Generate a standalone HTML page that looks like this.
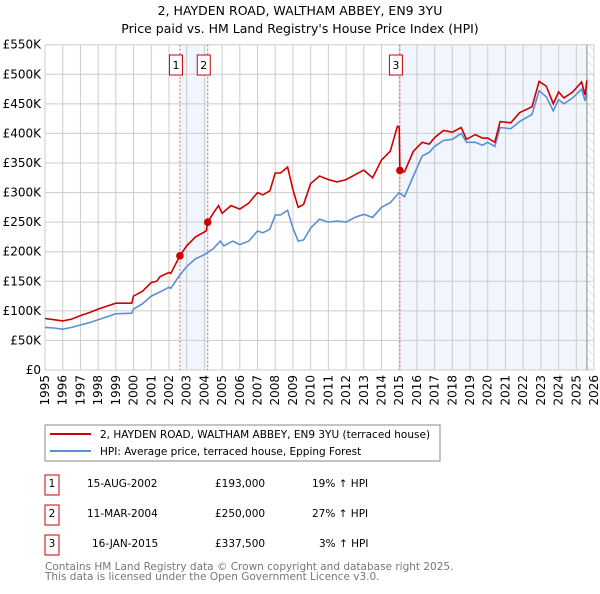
<!DOCTYPE html>
<html><head><meta charset="utf-8"><style>
body{margin:0;background:#fff;font-family:"DejaVu Sans","Liberation Sans",sans-serif;}
svg text{font-family:"DejaVu Sans","Liberation Sans",sans-serif;}
</style></head><body>
<svg id="c" width="600" height="590" xmlns="http://www.w3.org/2000/svg">
<text x="300" y="15" text-anchor="middle" font-size="12.5">2, HAYDEN ROAD, WALTHAM ABBEY, EN9 3YU</text>
<text x="300" y="33" text-anchor="middle" font-size="12.5">Price paid vs. HM Land Registry's House Price Index (HPI)</text>
<g id="plot"></g>
<rect x="45" y="425" width="395" height="36" fill="#fff" stroke="#888"/>
<line x1="50" y1="434" x2="91" y2="434" stroke="#cc0000" stroke-width="2"/>
<text x="100" y="438" font-size="10.5">2, HAYDEN ROAD, WALTHAM ABBEY, EN9 3YU (terraced house)</text>
<line x1="50" y1="451" x2="91" y2="451" stroke="#5b8fd4" stroke-width="2"/>
<text x="100" y="455" font-size="10.5">HPI: Average price, terraced house, Epping Forest</text>
<g font-size="10.5">
<rect x="45" y="475" width="14" height="20" fill="none" stroke="#cc0000"/><text x="52" y="487" text-anchor="middle">1</text>
<text x="87" y="487">15-AUG-2002</text><text x="215" y="487">£193,000</text><text x="312" y="487">19% ↑ HPI</text>
<rect x="45" y="505" width="14" height="20" fill="none" stroke="#cc0000"/><text x="52" y="517" text-anchor="middle">2</text>
<text x="87" y="517">11-MAR-2004</text><text x="215" y="517">£250,000</text><text x="312" y="517">27% ↑ HPI</text>
<rect x="45" y="535" width="14" height="20" fill="none" stroke="#cc0000"/><text x="52" y="547" text-anchor="middle">3</text>
<text x="92" y="547">16-JAN-2015</text><text x="215" y="547">£337,500</text><text x="319" y="547">3% ↑ HPI</text>
</g>
<text x="45" y="570" font-size="10.5" fill="#777">Contains HM Land Registry data © Crown copyright and database right 2025.</text>
<text x="45" y="580" font-size="10.5" fill="#777">This data is licensed under the Open Government Licence v3.0.</text>
</svg>
<script>
const redT=[1995,1995.5,1996,1996.5,1997,1997.5,1998,1998.5,1999,1999.9,2000,2000.5,2001,2001.3,2001.5,2002,2002.1,2002.62,2003,2003.5,2004.1,2004.19,2004.5,2004.8,2005,2005.5,2006,2006.5,2007,2007.3,2007.7,2008,2008.3,2008.7,2009,2009.3,2009.6,2010,2010.5,2011,2011.5,2012,2012.5,2013,2013.5,2014,2014.5,2014.9,2015.0,2015.04,2015.3,2015.8,2016.3,2016.7,2017,2017.5,2018,2018.5,2018.8,2019.3,2019.7,2020,2020.4,2020.7,2021.3,2021.8,2022.5,2022.9,2023.3,2023.7,2024,2024.3,2024.8,2025.3,2025.5,2025.6];
const redV=[87,85,83,86,92,97,103,108,113,113,125,133,148,150,158,165,163,193,210,225,235,250,265,278,265,278,272,282,300,296,303,333,333,343,305,275,280,315,328,322,318,322,330,338,325,355,370,412,411,337.5,335,370,385,382,393,405,402,410,390,398,392,392,385,420,418,435,445,488,480,450,470,460,470,487,465,490];
const hpiT=[1995,1995.5,1996,1996.5,1997,1997.5,1998,1998.5,1999,1999.9,2000,2000.5,2001,2001.5,2002,2002.1,2002.6,2003,2003.5,2004,2004.5,2004.9,2005.1,2005.6,2006,2006.5,2007,2007.3,2007.7,2008,2008.3,2008.7,2009,2009.3,2009.6,2010,2010.5,2011,2011.5,2012,2012.5,2013,2013.5,2014,2014.5,2015,2015.3,2015.8,2016.3,2016.7,2017,2017.5,2018,2018.5,2018.8,2019.3,2019.7,2020,2020.4,2020.7,2021.3,2021.8,2022.5,2022.9,2023.3,2023.7,2024,2024.3,2024.8,2025.3,2025.5,2025.6];
const hpiV=[72,71,69,72,76,80,85,90,95,96,103,112,125,132,140,138,160,175,188,195,205,218,210,218,212,218,235,232,238,262,262,270,240,218,220,240,255,250,252,250,258,263,258,275,283,300,293,328,362,368,378,388,390,400,385,385,380,385,378,410,408,420,432,472,462,438,457,450,460,475,455,470];
const saleT=[2002.62,2004.19,2015.04];
const saleV=[193,250,337.5];
const saleLabels=["1","2","3"];
const yTicks=[0,50,100,150,200,250,300,350,400,450,500,550];
const yTickLabels=["£0","£50K","£100K","£150K","£200K","£250K","£300K","£350K","£400K","£450K","£500K","£550K"];
const xTicks=[1995,1996,1997,1998,1999,2000,2001,2002,2003,2004,2005,2006,2007,2008,2009,2010,2011,2012,2013,2014,2015,2016,2017,2018,2019,2020,2021,2022,2023,2024,2025,2026];

const L=45,R=594,T=44.7,B=370,x0=1995,x1=2026,yMax=550;
const X=t=>L+(t-x0)/(x1-x0)*(R-L);
const Y=v=>B-v/yMax*(B-T);
const NS="http://www.w3.org/2000/svg";
const g=document.getElementById('plot');
function mk(tag,attrs,parent){const e=document.createElementNS(NS,tag);for(const k in attrs)e.setAttribute(k,attrs[k]);(parent||g).appendChild(e);return e;}
let e;
e=mk('rect',{x:L,y:T,width:R-L,height:B-T,fill:'#fff'});


e=mk('rect',{x:X(saleT[0]),y:T,width:X(saleT[1])-X(saleT[0]),height:B-T,fill:'#eef3fc',opacity:0.8});


e=mk('rect',{x:X(saleT[2]),y:T,width:X(2025.6)-X(saleT[2]),height:B-T,fill:'#eef3fc',opacity:0.8});


const defs=mk('defs',{});
const pat=mk('pattern',{id:'h',width:6,height:6,patternUnits:'userSpaceOnUse',patternTransform:'rotate(-45)'},defs);
mk('line',{x1:0,y1:0,x2:0,y2:6,stroke:'#ccc','stroke-width':1},pat);
e=mk('rect',{x:X(2025.6),y:T,width:R-X(2025.6),height:B-T,fill:'url(#h)'});


yTicks.forEach((v,i)=>{
  e=mk('line',{x1:L,x2:R,y1:Y(v),y2:Y(v),stroke:'#ccc','stroke-width':1});
  
  
  e=mk('text',{x:L-4,y:Y(v)+4,'text-anchor':'end','font-size':12});
  e.textContent=yTickLabels[i];
  
  
});
xTicks.forEach(t=>{
  e=mk('line',{x1:X(t),x2:X(t),y1:T,y2:B,stroke:'#ccc','stroke-width':1});
  
  
  e=mk('text',{x:0,y:0,'text-anchor':'end','font-size':12,transform:`translate(${X(t)+4},${B+5}) rotate(-90)`});
  e.textContent=t;
  
  
});
e=mk('line',{x1:X(2025.6),x2:X(2025.6),y1:T,y2:B,stroke:'#888','stroke-width':1});


saleT.forEach((t,i)=>{
  e=mk('line',{x1:X(t),x2:X(t),y1:T,y2:B,stroke:'#e06060','stroke-width':1,'stroke-dasharray':'2,2'});
  
  
  e=mk('rect',{x:X(t)-10.5,y:55,width:13,height:20,fill:'#fff',stroke:'#cc0000'});
  
  
  e=mk('text',{x:X(t)-4,y:69,'text-anchor':'middle','font-size':11});
  e.textContent=saleLabels[i];
  
  
});
const pts=(ts,vs)=>ts.map((t,i)=>X(t).toFixed(1)+','+Y(vs[i]).toFixed(1)).join(' ');
e=mk('polyline',{points:pts(hpiT,hpiV),fill:'none',stroke:'#5b8fd4','stroke-width':1.6});


e=mk('polyline',{points:pts(redT,redV),fill:'none',stroke:'#cc0000','stroke-width':1.6});


saleT.forEach((t,i)=>{
  e=mk('circle',{cx:X(t),cy:Y(saleV[i]),r:3.8,fill:'#cc0000'});
  
  
});
</script>
</body></html>
